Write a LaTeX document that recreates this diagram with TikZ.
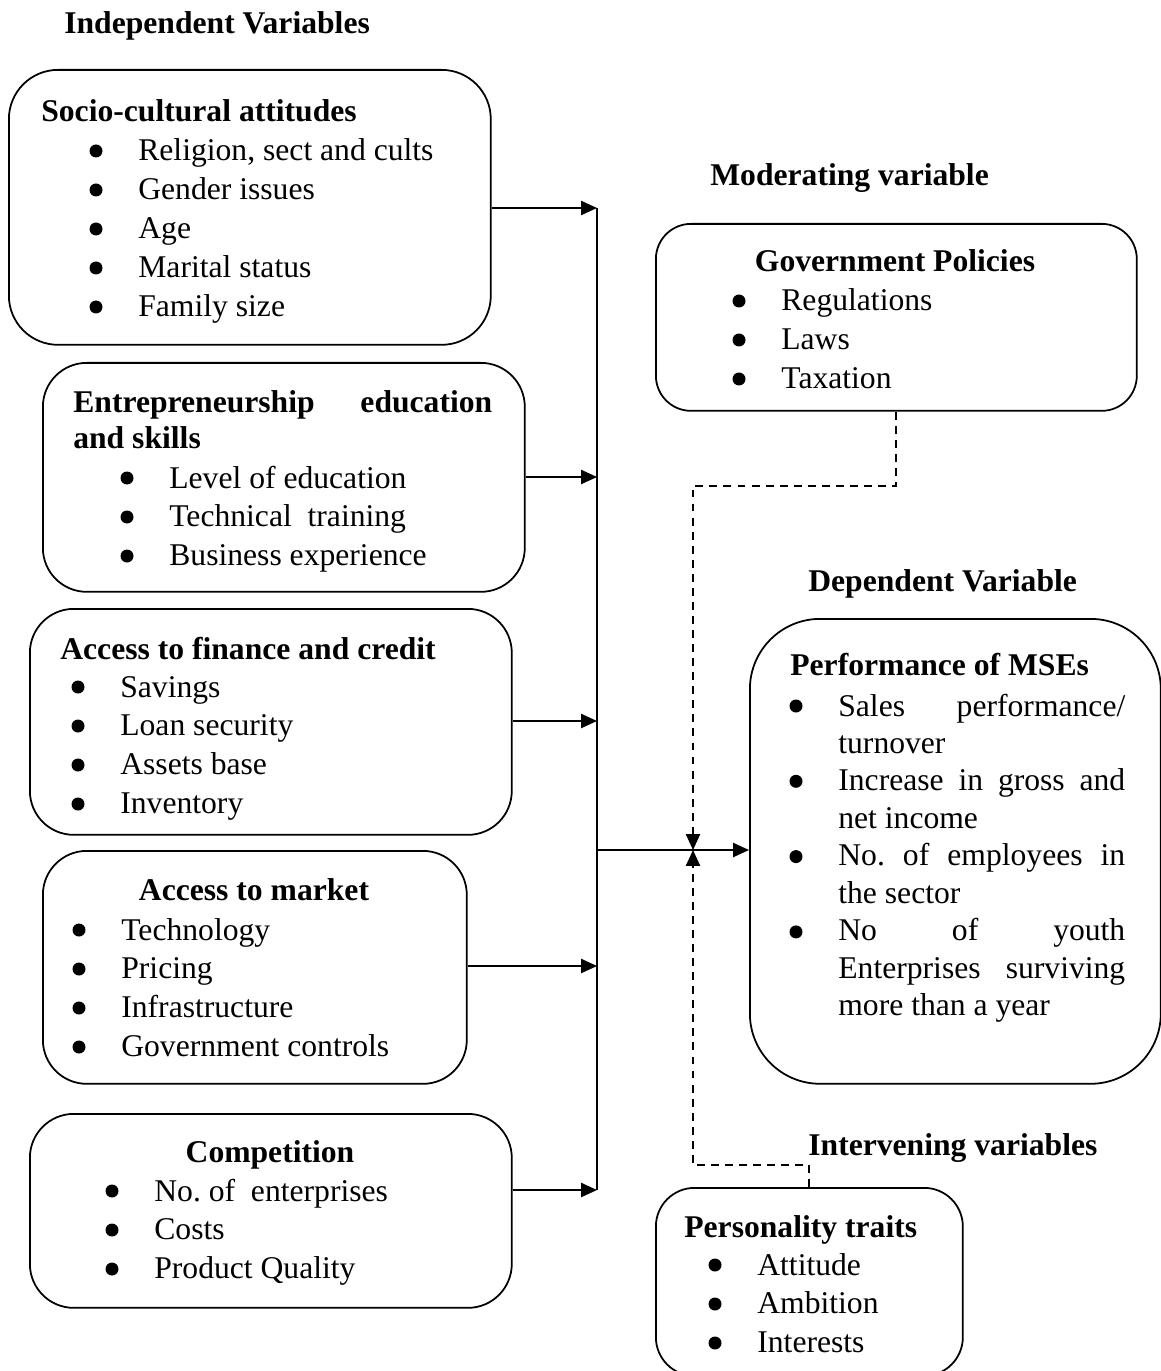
\documentclass[tikz,border=0pt]{standalone}
\usepackage{fontspec}
\setmainfont{Liberation Serif}
\usetikzlibrary{arrows.meta}
\frenchspacing
\newcommand{\lst}[1]{\begin{tabular}[t]{@{}l@{}}#1\end{tabular}}
\newcommand{\jst}[1]{\makebox[5.74cm][s]{#1}}

\begin{document}
\begin{tikzpicture}[x=0.02cm, y=-0.02cm, >={Triangle[length=9pt,width=8pt]},
  font=\fontsize{18}{22.1}\selectfont,
  box/.style={draw, line width=1pt, rounded corners=#1, anchor=north west, inner sep=0pt},
  txt/.style={anchor=base west, inner sep=0pt},
  ttl/.style={txt, font=\fontsize{18}{22.1}\selectfont\bfseries},
  link/.style={line width=1pt},
  dsh/.style={line width=1pt, dash pattern=on 4.5pt off 3.5pt}]
\useasboundingbox (0,0) rectangle (1160,1371);

% headings
\node[ttl] (indep) at (64,34) {Independent Variables};
\node[ttl] (moder) at (710,186) {Moderating variable};
\node[ttl] (depen) at (808,591) {Dependent Variable};
\node[ttl] (inter) at (808,1155) {Intervening variables};

% boxes
\node[box=28pt, minimum width=9.64cm, minimum height=5.5cm] (socio) at (8,69) {};
\node[box=25pt, minimum width=9.64cm, minimum height=4.58cm] (entre) at (42,362) {};
\node[box=25pt, minimum width=9.64cm, minimum height=4.52cm] (fin) at (29,608) {};
\node[box=25pt, minimum width=8.48cm, minimum height=4.66cm] (mkt) at (42,850) {};
\node[box=25pt, minimum width=9.64cm, minimum height=3.88cm] (comp) at (29,1113) {};
\node[box=20pt, minimum width=9.62cm, minimum height=3.74cm] (gov) at (655,223) {};
\node[box=40pt, minimum width=8.22cm, minimum height=9.3cm] (perf) at (749,618) {};
\node[box=22pt, minimum width=6.14cm, minimum height=3.76cm] (pers) at (655,1187) {};

% box texts
\node[ttl] (socT) at (41,122) {Socio-cultural attitudes};
\node[txt] (socL) at (138,161) {\lst{Religion, sect and cults\\ Gender issues\\ Age\\
  Marital status\\ Family size}};

\node[ttl] (entT) at (73,412) {\lst{\makebox[8.38cm][s]{Entrepreneurship education}\\[-1.4pt] and skills}};
\node[txt] (entL) at (169,488) {\lst{Level of education\\ Technical\ \ training\\ Business experience}};

\node[ttl] (finT) at (60,659) {Access to finance and credit};
\node[txt] (finL) at (120,697) {\lst{Savings\\ Loan security\\ Assets base\\ Inventory}};

\node[ttl, anchor=base] (mktT) at (254,900) {Access to market};
\node[txt] (mktL) at (121,940) {\lst{Technology\\ Pricing\\ Infrastructure\\ Government controls}};

\node[ttl, anchor=base] (compT) at (270,1162) {Competition};
\node[txt] (compL) at (154,1201) {\lst{No. of\ \ enterprises\\ Costs\\ Product Quality}};

\node[ttl, anchor=base] (govT) at (895,272) {Government Policies};
\node[txt] (govL) at (781,311) {\lst{Regulations\\ Laws\\ Taxation}};

\node[ttl] (perfT) at (790,675) {Performance of MSEs};
\node[txt] (perfL) at (838,716) {\def\arraystretch{0.965}\lst{\jst{Sales performance/}\\
  turnover\\ \jst{Increase in gross and}\\ net income\\ \jst{No. of employees in}\\
  the sector\\ \jst{No of youth}\\ \jst{Enterprises surviving}\\ more than a year}};

\node[ttl] (persT) at (684,1237) {Personality traits};
\node[txt] (persL) at (757,1275) {\lst{Attitude\\ Ambition\\ Interests}};

% bullets: x / first baseline / count / line step
\foreach \bx/\by/\n/\st in {96/161/5/39, 127/488/3/39, 78/697/4/39, 79/940/4/39,
    112/1201/3/39, 739/311/3/39, 796/716/4/75.3, 715/1275/3/39}
  \foreach \k in {1,...,\n}
    \fill (\bx,{\by-10+\st*(\k-1)}) circle (6.5);

% bus line and arrows
\coordinate (b1) at (597,208);
\coordinate (b2) at (597,477);
\coordinate (b3) at (597,721);
\coordinate (b4) at (597,966);
\coordinate (b5) at (597,1190);
\coordinate (bm) at (597,850);
\coordinate (jn) at (693,850);
\draw[link] (b1) -- (b5);
\draw[link, ->] (b1 -| socio.east) -- (b1);
\draw[link, ->] (b2 -| entre.east) -- (b2);
\draw[link, ->] (b3 -| fin.east) -- (b3);
\draw[link, ->] (b4 -| mkt.east) -- (b4);
\draw[link, ->] (b5 -| comp.east) -- (b5);
\draw[link, ->] (bm) -- (bm -| perf.west);

% dashed influences
\draw[dsh, ->] (gov.south) -- ++(0,74) -| (jn);
\draw[dsh, ->] (pers.north) -- ++(0,-22) -| (jn);
\end{tikzpicture}
\end{document}
